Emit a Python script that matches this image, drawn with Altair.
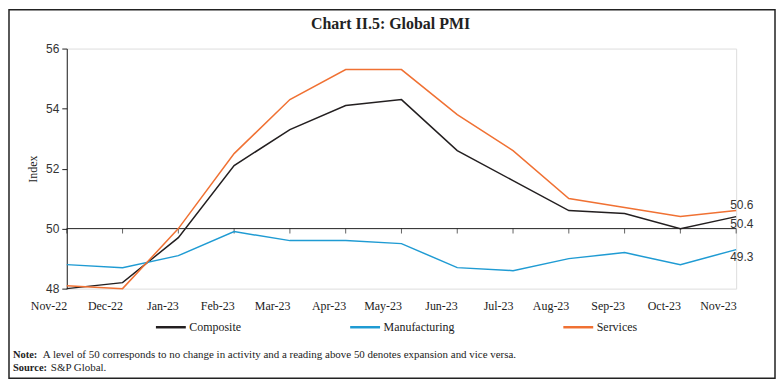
import altair as alt
import pandas as pd

months = ["Nov-22", "Dec-22", "Jan-23", "Feb-23", "Mar-23", "Apr-23", "May-23",
          "Jun-23", "Jul-23", "Aug-23", "Sep-23", "Oct-23", "Nov-23"]
composite = [48.0, 48.2, 49.7, 52.1, 53.3, 54.1, 54.3, 52.6, 51.6, 50.6, 50.5, 50.0, 50.4]
manufacturing = [48.8, 48.7, 49.1, 49.9, 49.6, 49.6, 49.5, 48.7, 48.6, 49.0, 49.2, 48.8, 49.3]
services = [48.1, 48.0, 50.0, 52.5, 54.3, 55.3, 55.3, 53.8, 52.6, 51.0, 50.7, 50.4, 50.6]
series_names = ["Composite", "Manufacturing", "Services"]
series_colors = ["#231f20", "#1f9bd3", "#f07133"]
y_ticks = [48, 50, 52, 54, 56]
title_text = "Chart II.5: Global PMI"
y_title = "Index"
note_label = "Note:"
note_text = "A level of 50 corresponds to no change in activity and a reading above 50 denotes expansion and vice versa."
source_label = "Source:"
source_text = "S&P Global."
baseline_value = 50

rows = []
for name, vals in zip(series_names, [composite, manufacturing, services]):
    for m, v in zip(months, vals):
        rows.append({"month": m, "series": name, "value": v})
df = pd.DataFrame(rows)

W, H = 672, 241
SERIF = "Liberation Serif"
SANS = "Liberation Sans"

xscale = alt.Scale(type="point", domain=months, padding=0)
yscale = alt.Scale(domain=[48, 56], nice=False, zero=False)
cscale = alt.Scale(domain=series_names, range=series_colors)

base = alt.Chart(df)

lines = base.mark_line(strokeWidth=1.5).encode(
    x=alt.X("month:O", scale=xscale, sort=months,
            axis=alt.Axis(title=None, domain=False, ticks=False, labelAngle=0,
                          labelFont=SERIF, labelFontSize=12, labelColor="#222",
                          labelPadding=17)),
    y=alt.Y("value:Q", scale=yscale,
            axis=alt.Axis(values=y_ticks, grid=False, title=y_title,
                          titleFont=SERIF, titleFontWeight="normal", titleFontSize=12,
                          titleColor="#222", titlePadding=6,
                          labelFont=SANS, labelFontSize=12, labelColor="#333",
                          domainColor="#222", tickColor="#222", tickSize=5,
                          labelPadding=3)),
    color=alt.Color("series:N", scale=cscale, sort=series_names,
                    legend=alt.Legend(title=None, orient="none", direction="horizontal",
                                      legendX=88, legendY=263, symbolType="stroke",
                                      symbolSize=900, symbolStrokeWidth=2.5,
                                      labelFont=SERIF, labelFontSize=12, labelColor="#222",
                                      labelOffset=2, columnPadding=103, padding=0)),
)

base_df = pd.DataFrame({"month": months, "value": [baseline_value] * len(months)})
hrule = alt.Chart(pd.DataFrame({"v": [baseline_value], "a": [months[0]], "b": [months[-1]]})).mark_rule(
    color="#222", strokeWidth=1).encode(
    x=alt.X("a:O", scale=xscale, sort=months), x2="b:O", y=alt.Y("v:Q", scale=yscale))
ticks = alt.Chart(base_df).mark_tick(color="#222", size=5, thickness=1, orient="vertical",
                                     yOffset=2.5).encode(
    x=alt.X("month:O", scale=xscale, sort=months), y=alt.Y("value:Q", scale=yscale))

last = df[df["month"] == months[-1]]
dys = {"Composite": 7, "Manufacturing": 7, "Services": -6}
end_labels = []
for name in series_names:
    end_labels.append(
        alt.Chart(last[last["series"] == name]).mark_text(
            align="left", dx=-6, dy=dys[name], font=SANS, fontSize=12, color="#333").encode(
            x=alt.X("month:O", scale=xscale, sort=months),
            y=alt.Y("value:Q", scale=yscale),
            text=alt.Text("value:Q", format=".1f")))

one = pd.DataFrame({"k": [0]})
frame = alt.Chart(one).mark_rect(fill=None, stroke="#222", strokeWidth=1.5).encode(
    x=alt.value(-58), x2=alt.value(711), y=alt.value(-39), y2=alt.value(331))

def txt(s, x, y, size, weight="normal", align="left", font=SERIF):
    return alt.Chart(pd.DataFrame({"t": [s]})).mark_text(
        align=align, baseline="alphabetic", font=font, fontSize=size,
        fontWeight=weight, color="#222").encode(
        text="t:N", x=alt.value(x), y=alt.value(y))

title = txt(title_text, 325, -20, 16, weight="bold", align="center")
note1 = txt(note_label, 13 - 67, 359 - 48, 10.5, weight="bold")
note2 = txt(note_text, 43 - 67, 359 - 48, 11)
src1 = txt(source_label, 13 - 67, 372 - 48, 10.5, weight="bold")
src2 = txt(source_text, 51 - 67, 372 - 48, 11)

chart = alt.layer(frame, hrule, ticks, lines, *end_labels, title, note1, note2, src1, src2).properties(
    width=W, height=H, padding=0
).configure_view(stroke=None).configure(background="white")

chart.save("out.html", embed_options={"renderer": "svg", "actions": False})
